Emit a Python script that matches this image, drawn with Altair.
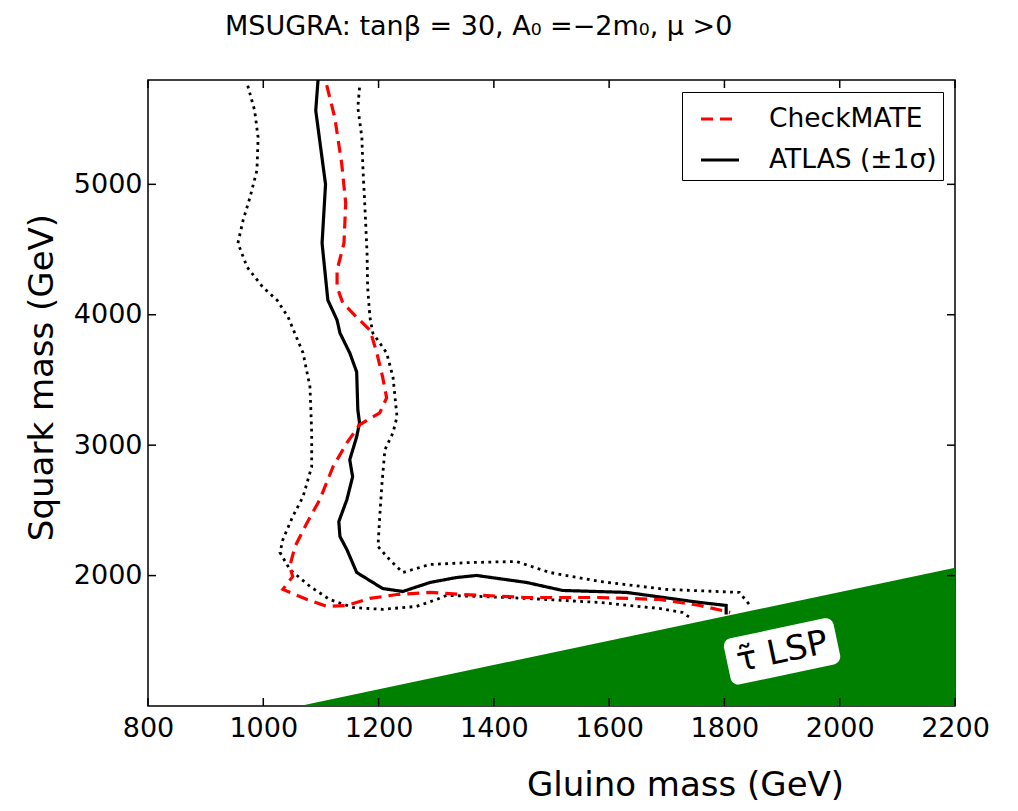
import altair as alt
import pandas as pd

# ---- data ----
atlas_x = [1095, 1091, 1108, 1102, 1112, 1128, 1133, 1150, 1162, 1164, 1167, 1162, 1150, 1155, 1145,
           1131, 1133, 1145, 1162, 1207, 1242, 1289, 1335, 1370, 1457, 1519, 1630, 1757, 1803, 1803]
atlas_y = [5800, 5566, 5000, 4549, 4112, 3959, 3860, 3707, 3562, 3271, 3171, 3064, 2888, 2758, 2582,
           2414, 2299, 2200, 2024, 1901, 1878, 1947, 1985, 2001, 1947, 1886, 1871, 1794, 1771, 1702]

cm_x = [1110, 1124, 1136, 1143, 1140, 1128, 1128, 1138, 1162, 1185, 1197, 1207, 1214, 1202, 1167,
        1145, 1121, 1098, 1076, 1055, 1046, 1051, 1034, 1076, 1110, 1145, 1185, 1232, 1289, 1346,
        1457, 1583, 1687, 1757, 1810]
cm_y = [5760, 5513, 5161, 4855, 4549, 4342, 4212, 4090, 3982, 3883, 3707, 3523, 3363, 3248, 3156,
        3018, 2835, 2582, 2406, 2223, 2070, 1993, 1894, 1817, 1764, 1771, 1825, 1855, 1871, 1855,
        1832, 1832, 1817, 1771, 1718]

lo_x = [973, 985, 991, 989, 977, 965, 956, 972, 999, 1024, 1043, 1069, 1081, 1084, 1084, 1069, 1051,
        1034, 1029, 1046, 1081, 1115, 1155, 1207, 1266, 1301, 1318, 1375, 1457, 1583, 1687, 1727, 1745]
lo_y = [5757, 5566, 5360, 5107, 4901, 4725, 4549, 4365, 4212, 4112, 3982, 3707, 3447, 3095, 2835,
        2605, 2452, 2276, 2177, 2047, 1917, 1817, 1756, 1741, 1764, 1817, 1848, 1840, 1825, 1794,
        1748, 1718, 1664]

hi_x = [1167, 1164, 1171, 1173, 1176, 1180, 1181, 1185, 1190, 1214, 1225, 1232, 1225, 1211, 1206,
        1202, 1199, 1219, 1242, 1289, 1358, 1439, 1497, 1583, 1699, 1826, 1843]
hi_y = [5742, 5589, 5360, 5107, 4855, 4472, 4212, 3982, 3860, 3707, 3523, 3217, 3095, 2965, 2712,
        2452, 2223, 2123, 2024, 2085, 2100, 2108, 2024, 1955, 1894, 1871, 1779]

stau_x = [1063, 2200]
stau_y = [1000, 2060]

label_x = [1900]
label_y = [1419]
label_text = ["τ̃ LSP"]

x_ticks = [800, 1000, 1200, 1400, 1600, 1800, 2000, 2200]
y_ticks = [2000, 3000, 4000, 5000]

series_names = ["CheckMATE", "ATLAS (±1σ)"]

# ---- tables ----
W, H = 807, 626

atlas_df = pd.DataFrame({"x": atlas_x, "y": atlas_y, "series": series_names[1], "i": range(len(atlas_x))})
cm_df = pd.DataFrame({"x": cm_x, "y": cm_y, "series": series_names[0], "i": range(len(cm_x))})
band_df = pd.concat([
    pd.DataFrame({"x": lo_x, "y": lo_y, "band": "lo", "i": range(len(lo_x))}),
    pd.DataFrame({"x": hi_x, "y": hi_y, "band": "hi", "i": range(len(hi_x))}),
])
stau_df = pd.DataFrame({"x": stau_x, "y": stau_y})
label_df = pd.DataFrame({"x": label_x, "y": label_y, "t": label_text})
xt_df = pd.DataFrame({"x": x_ticks})
yt_df = pd.DataFrame({"y": y_ticks})

xscale = alt.Scale(domain=[800, 2200], nice=False, zero=False)
yscale = alt.Scale(domain=[1000, 5800], nice=False, zero=False)
xaxis = alt.Axis(values=x_ticks, title="Gluino mass (GeV)", labelPadding=9, format="d", labelFlush=False,
                 titleX=537, titleY=89, titleBaseline="alphabetic", titleAlign="center")
yaxis = alt.Axis(values=y_ticks, title="Squark mass (GeV)", labelPadding=6, format="d", labelFlush=False,
                 titleX=-106, titleY=297, titleAngle=270, titleAlign="center", titleBaseline="middle")
X = alt.X("x:Q", scale=xscale, axis=xaxis)
Y = alt.Y("y:Q", scale=yscale, axis=yaxis)

legend = alt.Legend(title=None, orient="top-right", offset=12, padding=6, symbolOffset=11,
                    fillColor="white", strokeColor="black", cornerRadius=0,
                    labelFontSize=26.5, labelFont="DejaVu Sans", labelColor="black",
                    symbolType="stroke", symbolSize=1444, symbolStrokeWidth=3.2,
                    labelOffset=28, rowPadding=6, labelLimit=300)
color = alt.Color("series:N", scale=alt.Scale(domain=series_names, range=["red", "black"]), legend=legend)
dash = alt.StrokeDash("series:N", scale=alt.Scale(domain=series_names, range=[[12, 7], [1, 0]]), legend=legend)

stau = alt.Chart(stau_df).mark_area(color="#008000", clip=True, opacity=1).encode(
    x=X, y=Y, y2=alt.datum(1000))

BOX = ("M -0.857,-0.42 L 0.857,-0.42 A 0.143 0.143 0 0 1 1,-0.277 L 1,0.277 "
       "A 0.143 0.143 0 0 1 0.857,0.42 L -0.857,0.42 A 0.143 0.143 0 0 1 -1,0.277 "
       "L -1,-0.277 A 0.143 0.143 0 0 1 -0.857,-0.42 Z")
box = alt.Chart(label_df).mark_point(shape=BOX, size=12544, filled=True, fill="white",
                                     strokeWidth=0, opacity=1, angle=348).encode(x=X, y=Y)
txt = alt.Chart(label_df).mark_text(angle=348, fontSize=34, font="DejaVu Sans", color="black",
                                    align="center", baseline="middle", dy=1).encode(x=X, y=Y, text="t:N")

bands = alt.Chart(band_df).mark_line(color="black", strokeWidth=2.8, strokeDash=[2.8, 4.4],
                                     strokeCap="butt").encode(
    x=X, y=Y, detail="band:N", order="i:Q")

atlas = alt.Chart(atlas_df).mark_line(strokeWidth=3.2).encode(
    x=X, y=Y, color=color, strokeDash=dash, order="i:Q")
cm = alt.Chart(cm_df).mark_line(strokeWidth=3.2).encode(
    x=X, y=Y, color=color, strokeDash=dash, order="i:Q")

tick_style = dict(color="black", strokeWidth=1.5)
xt_bottom = alt.Chart(xt_df).mark_rule(**tick_style).encode(x=X, y=alt.value(H), y2=alt.value(H - 8))
xt_top = alt.Chart(xt_df).mark_rule(**tick_style).encode(x=X, y=alt.value(0), y2=alt.value(8))
yt_left = alt.Chart(yt_df).mark_rule(**tick_style).encode(y=Y, x=alt.value(0), x2=alt.value(8))
yt_right = alt.Chart(yt_df).mark_rule(**tick_style).encode(y=Y, x=alt.value(W), x2=alt.value(W - 8))

chart = alt.layer(stau, box, txt, bands, atlas, cm, xt_bottom, xt_top, yt_left, yt_right).properties(
    width=W, height=H,
    title=alt.Title(text="MSUGRA: tanβ = 30, A₀ =−2m₀, μ >0", font="DejaVu Sans", fontSize=27,
                    fontWeight="normal", anchor="start", frame="group", dx=77, offset=6,
                    baseline="bottom", color="black"),
    autosize=alt.AutoSizeParams(type="none"),
    padding={"left": 140, "top": 72, "right": 50, "bottom": 97},
).configure_view(stroke="black", strokeWidth=1.5).configure_axis(
    domain=False, grid=False, ticks=False,
    labelFont="DejaVu Sans", labelFontSize=27, labelColor="black",
    titleFont="DejaVu Sans", titleFontSize=34, titleFontWeight="normal", titleColor="black",
)

chart.save("out.html", embed_options={"renderer": "svg", "actions": False})
